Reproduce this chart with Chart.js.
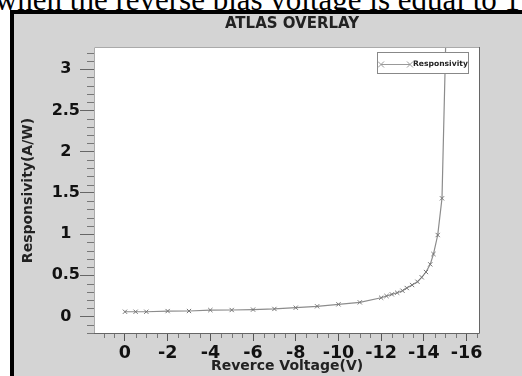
<!DOCTYPE html>
<html>
<head>
<meta charset="utf-8">
<script src="https://cdn.jsdelivr.net/npm/chart.js@4"></script>
<style>
  html, body { margin: 0; padding: 0; width: 522px; height: 376px; overflow: hidden; background: #fff; }
  #caption {
    position: absolute; right: 2px; top: -16px;
    font: 31px/31px "Liberation Serif", serif; color: #000; white-space: nowrap;
  }
  #frame {
    position: absolute; left: 10px; top: 10px; width: 620px; height: 420px;
    border-left: 4px solid #000; border-top: 4px solid #000; background: #d4d4d4;
  }
  #chartResp { display: block; }
</style>
</head>
<body>
<div id="caption">when the reverse bias voltage is equal to 1</div>
<div id="frame"><canvas id="chartResp" width="556" height="362"></canvas></div>
<script>
// data
const voltage = [0, -0.5, -1, -2, -3, -4, -5, -6, -7, -8, -9, -10, -11, -12,
  -12.25, -12.5, -12.75, -13, -13.2, -13.45, -13.7, -13.9, -14.1, -14.3, -14.45, -14.65, -14.85, -15.05];
const responsivity = [0.058, 0.058, 0.058, 0.066, 0.067, 0.078, 0.079, 0.084, 0.092, 0.107, 0.124, 0.148, 0.172, 0.228,
  0.249, 0.269, 0.289, 0.313, 0.346, 0.382, 0.422, 0.476, 0.54, 0.633, 0.758, 0.989, 1.434, 3.6];
const xTicks = [0, -2, -4, -6, -8, -10, -12, -14, -16];
const yTicks = [0, 0.5, 1, 1.5, 2, 2.5, 3];

Chart.defaults.font.family = 'DejaVu Sans';

// white plot area, frame, minor ticks and the boxed legend
const plotDecor = {
    id: 'plotDecor',
    beforeDraw(chart) {
        const a = chart.chartArea, ctx = chart.ctx;
        ctx.save();
        ctx.fillStyle = '#fff';
        ctx.fillRect(a.left, a.top, a.right - a.left, a.bottom - a.top);
        ctx.restore();
    },
    afterDraw(chart) {
        const a = chart.chartArea, ctx = chart.ctx;
        const x = chart.scales.x, y = chart.scales.y;
        ctx.save();
        ctx.lineWidth = 1;
        // frame
        ctx.strokeStyle = '#aaa';
        ctx.beginPath();
        ctx.moveTo(a.left + 0.5, a.bottom); ctx.lineTo(a.left + 0.5, a.top + 0.5); ctx.lineTo(a.right, a.top + 0.5);
        ctx.stroke();
        ctx.strokeStyle = '#666';
        ctx.beginPath();
        ctx.moveTo(a.right - 0.5, a.top); ctx.lineTo(a.right - 0.5, a.bottom - 0.5); ctx.lineTo(a.left, a.bottom - 0.5);
        ctx.stroke();
        // minor ticks
        ctx.strokeStyle = '#777';
        ctx.beginPath();
        for (let v = Math.ceil(y.min * 10); v <= Math.floor(y.max * 10); v++) {
            if (v % 5 === 0) continue;
            const py = Math.round(y.getPixelForValue(v / 10)) + 0.5;
            ctx.moveTo(a.left - 7, py); ctx.lineTo(a.left, py);
        }
        for (let v = Math.ceil(x.min * 2); v <= Math.floor(x.max * 2); v++) {
            if (v % 4 === 0) continue;
            const px = Math.round(x.getPixelForValue(v / 2)) + 0.5;
            ctx.moveTo(px, a.bottom); ctx.lineTo(px, a.bottom + 4);
        }
        ctx.stroke();
        // legend
        const lx = a.right - 103, ly = a.top + 5;
        ctx.fillStyle = '#fff';
        ctx.fillRect(lx, ly, 91, 21);
        ctx.strokeStyle = '#888';
        ctx.strokeRect(lx + 0.5, ly + 0.5, 91, 21);
        const my = ly + 12.5;
        ctx.strokeStyle = '#999';
        ctx.beginPath();
        ctx.moveTo(lx + 4, my); ctx.lineTo(lx + 33, my);
        [lx + 4, lx + 33].forEach(function(cx) {
            ctx.moveTo(cx - 3, my - 3); ctx.lineTo(cx + 3, my + 3);
            ctx.moveTo(cx - 3, my + 3); ctx.lineTo(cx + 3, my - 3);
        });
        ctx.stroke();
        ctx.fillStyle = '#222';
        ctx.font = 'bold 7.6px "DejaVu Sans"';
        ctx.textBaseline = 'middle';
        ctx.fillText(chart.data.datasets[0].label, lx + 36, my);
        ctx.restore();
    }
};

const data = {
    datasets: [{
        label: 'Responsivity',
        data: voltage.map((v, i) => ({x: v, y: responsivity[i]})),
        borderColor: '#8c8c8c',
        borderWidth: 1.2,
        pointStyle: 'crossRot',
        pointRadius: 3,
        pointBorderColor: '#777',
        pointBorderWidth: 1,
        tension: 0
    }]
};

const config = {
    type: 'line',
    data: data,
    options: {
        responsive: false,
        animation: false,
        layout: { padding: 0 },
        plugins: {
            legend: { display: false },
            tooltip: { enabled: false },
            title: {
                display: true,
                text: 'ATLAS OVERLAY',
                color: '#222',
                font: { size: 15, weight: 'bold' },
                padding: { top: 1, bottom: 14 }
            }
        },
        scales: {
            x: {
                type: 'linear',
                reverse: true,
                min: -16.63,
                max: 1.45,
                afterFit: s => { s.height = 42; },
                afterBuildTicks: s => { s.ticks = xTicks.map(v => ({value: v})); },
                grid: { drawOnChartArea: false, tickLength: 7, tickColor: '#555' },
                border: { display: false },
                ticks: {
                    color: '#111',
                    font: { size: 17.5, weight: 'bold' },
                    padding: 2,
                    maxRotation: 0,
                    callback: v => String(v)
                },
                title: {
                    display: true,
                    text: 'Reverce Voltage(V)',
                    color: '#222',
                    font: { size: 14, weight: 'bold' },
                    padding: { top: 0, bottom: 1.6 }
                }
            },
            y: {
                type: 'linear',
                min: -0.212,
                max: 3.27,
                afterFit: s => { s.width = 80; },
                afterBuildTicks: s => { s.ticks = yTicks.map(v => ({value: v})); },
                grid: { drawOnChartArea: false, tickLength: 14, tickColor: '#666' },
                border: { display: false },
                ticks: {
                    color: '#111',
                    font: { size: 16, weight: 'bold' },
                    padding: 0,
                    crossAlign: 'center',
                    callback: v => String(v)
                },
                title: {
                    display: true,
                    text: 'Responsivity(A/W)',
                    color: '#222',
                    font: { size: 14, weight: 'bold' },
                    padding: { top: 5.6, bottom: 0 }
                }
            },
            yr: {
                position: 'right',
                display: true,
                afterFit: s => { s.width = 90; },
                grid: { display: false },
                border: { display: false },
                ticks: { display: false }
            }
        }
    },
    plugins: [plotDecor]
};

var chart = new Chart(document.getElementById('chartResp'), config);
</script>
</body>
</html>
